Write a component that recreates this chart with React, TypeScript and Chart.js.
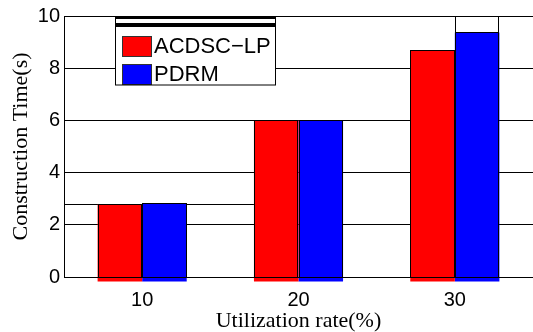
import React, { useEffect, useRef } from "react";
import { Chart, registerables } from "chart.js";

Chart.register(...registerables);

const categories = ["10", "20", "30"];
const acdscLp = [2.78, 6.0, 8.68];
const pdrm = [2.83, 6.0, 9.37];
const seriesLabels = ["ACDSC\u2212LP", "PDRM"];
const seriesColors = ["#ff0000", "#0000ff"];
const yMin = 0;
const yMax = 10;
const yStep = 2;
const xTitle = "Utilization rate(%)";
const yTitle = "Construction Time(s)";

const artifactPlugin = {
  id: "artifacts",
  beforeDatasetsDraw(chart: any) {
    const ctx = chart.ctx;
    const area = chart.chartArea;
    const y = chart.scales.y;
    const m0 = chart.getDatasetMeta(0);
    const m1 = chart.getDatasetMeta(1);
    ctx.save();
    ctx.strokeStyle = "#000";
    ctx.lineWidth = 1;
    const b = m0.data[1];
    if (b) {
      const yy = Math.round(y.getPixelForValue(acdscLp[0])) + 0.5;
      ctx.beginPath();
      ctx.moveTo(area.left, yy);
      ctx.lineTo(b.x - b.width / 2, yy);
      ctx.stroke();
    }
    const c = m1.data[2];
    if (c) {
      const l = Math.round(c.x - c.width / 2);
      const r = Math.round(c.x + c.width / 2);
      const y0 = Math.round(y.getPixelForValue(yMin));
      ctx.fillStyle = "#fff";
      ctx.fillRect(l, area.top, r - l, y0 - area.top);
      ctx.strokeRect(l + 0.5, Math.round(area.top) + 0.5, r - l - 1, y0 - area.top);
    }
    ctx.restore();
  },
  afterDatasetsDraw(chart: any) {
    const ctx = chart.ctx;
    const area = chart.chartArea;
    const y = chart.scales.y;
    const y0 = Math.round(y.getPixelForValue(yMin));
    ctx.save();
    ctx.strokeStyle = "#000";
    ctx.lineWidth = 1;
    [0, 1].forEach((di) => {
      const meta = chart.getDatasetMeta(di);
      meta.data.forEach((b: any) => {
        const l = Math.round(b.x - b.width / 2);
        const r = Math.round(b.x + b.width / 2);
        const t = Math.round(b.y);
        ctx.strokeRect(l + 0.5, t + 0.5, r - l - 1, y0 - t);
      });
    });
    ctx.beginPath();
    ctx.moveTo(area.left, y0 + 0.5);
    ctx.lineTo(area.right, y0 + 0.5);
    ctx.stroke();
    ctx.restore();
  },
};

const legendPlugin = {
  id: "boxLegend",
  afterDraw(chart: any) {
    const ctx = chart.ctx;
    const bx = 115.5, by = 16.5, bw = 160, bh = 68.5;
    ctx.save();
    ctx.fillStyle = "#fff";
    ctx.fillRect(bx, by, bw, bh);
    ctx.beginPath();
    ctx.rect(bx, by, bw, bh);
    ctx.clip();
    const rows = [46, 74];
    seriesLabels.forEach((lab, i) => {
      const cy = rows[i];
      ctx.fillStyle = seriesColors[i];
      ctx.fillRect(122, cy - 10, 30, 21);
      ctx.strokeStyle = "#333";
      ctx.lineWidth = 1;
      ctx.strokeRect(122.5, cy - 9.5, 29, 20);
      ctx.fillStyle = "#000";
      ctx.font = "22px 'Liberation Sans', Arial, sans-serif";
      ctx.textBaseline = "middle";
      ctx.textAlign = "left";
      ctx.fillText(lab, 154, cy + 1);
    });
    ctx.restore();
    ctx.save();
    ctx.strokeStyle = "#000";
    ctx.lineWidth = 1;
    ctx.strokeRect(bx, by, bw, bh);
    ctx.fillStyle = "#000";
    ctx.fillRect(bx, 16, bw + 0.5, 3);
    ctx.fillRect(bx, 23, bw + 0.5, 4);
    ctx.restore();
  },
};

export default function App() {
  const ref = useRef<HTMLCanvasElement>(null);
  useEffect(() => {
    document.body.style.margin = "0";
    const chart = new Chart(ref.current!, {
      type: "bar",
      data: {
        labels: categories,
        datasets: [
          {
            label: seriesLabels[0],
            data: acdscLp,
            backgroundColor: seriesColors[0],
            borderWidth: 0,
            base: -0.17,
            clip: false as any,
          },
          {
            label: seriesLabels[1],
            data: pdrm,
            backgroundColor: seriesColors[1],
            borderWidth: 0,
            base: -0.17,
            clip: false as any,
          },
        ],
      },
      options: {
        animation: false,
        responsive: true,
        maintainAspectRatio: false,
        layout: { padding: { top: 16, right: 0, left: 0, bottom: 0 } },
        datasets: { bar: { barPercentage: 1, categoryPercentage: 0.57 } },
        plugins: { legend: { display: false }, tooltip: { enabled: false } },
        scales: {
          x: {
            grid: { display: false, drawTicks: false },
            border: { display: true, color: "#000", width: 1 },
            ticks: {
              color: "#000",
              padding: 11,
              font: { family: "'Liberation Sans', Arial, sans-serif", size: 20 },
            },
            title: {
              display: true,
              text: xTitle,
              color: "#000",
              padding: { top: 0, bottom: 0 },
              font: { family: "'Liberation Serif', 'Times New Roman', serif", size: 22, lineHeight: 1 },
            },
            afterFit: (s: any) => {
              s.height = 55;
            },
          },
          y: {
            min: yMin,
            max: yMax,
            grid: { color: "#000", lineWidth: 1, drawTicks: false },
            border: { display: true, color: "#000", width: 1 },
            ticks: {
              stepSize: yStep,
              color: "#000",
              padding: 4,
              font: { family: "'Liberation Sans', Arial, sans-serif", size: 20 },
            },
            title: {
              display: true,
              text: yTitle,
              color: "#000",
              padding: { top: 10, bottom: 0 },
              font: { family: "'Liberation Serif', 'Times New Roman', serif", size: 22, lineHeight: 1 },
            },
            afterFit: (s: any) => {
              s.width = 64;
            },
          },
        },
      },
      plugins: [artifactPlugin, legendPlugin],
    });
    return () => chart.destroy();
  }, []);
  return (
    <div style={{ position: "absolute", left: 0, top: 0, width: 533, height: 332 }}>
      <canvas ref={ref} />
    </div>
  );
}
